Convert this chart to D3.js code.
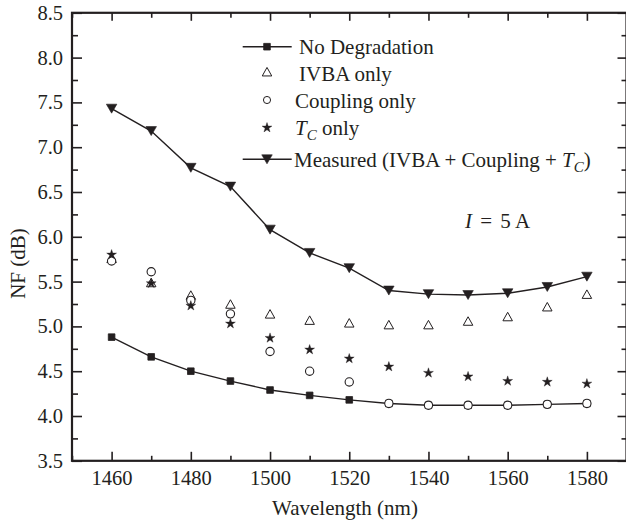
<!DOCTYPE html>
<html>
<head>
<meta charset="utf-8">
<script src="https://cdn.jsdelivr.net/npm/d3@7"></script>
<style>
  html, body { margin: 0; padding: 0; background: #fff; }
  svg { display: block; }
  text { font-family: "Liberation Serif", "Times New Roman", serif; fill: #231f20; }
</style>
</head>
<body>
<svg id="chart" width="626" height="523"></svg>
<script>
// Noise figure vs wavelength, I = 5 A
const wavelengths = [1460, 1470, 1480, 1490, 1500, 1510, 1520, 1530, 1540, 1550, 1560, 1570, 1580];
const noDegradation = [4.88, 4.66, 4.50, 4.39, 4.29, 4.23, 4.18, 4.14, 4.12, 4.12, 4.12, 4.13, 4.14];
const ivbaOnly      = [5.76, 5.49, 5.35, 5.25, 5.14, 5.07, 5.04, 5.02, 5.02, 5.06, 5.11, 5.22, 5.36];
const couplingOnly  = [5.73, 5.61, 5.29, 5.14, 4.72, 4.50, 4.38, 4.14, 4.12, 4.12, 4.12, 4.13, 4.14];
const tcOnly        = [5.80, 5.48, 5.23, 5.03, 4.87, 4.74, 4.64, 4.55, 4.48, 4.44, 4.39, 4.38, 4.36];
const measured      = [7.43, 7.18, 6.77, 6.56, 6.08, 5.82, 5.65, 5.40, 5.36, 5.35, 5.37, 5.44, 5.555];

const xMajorTicks = [1460, 1480, 1500, 1520, 1540, 1560, 1580];
const xMinorTicks = [1450, 1470, 1490, 1510, 1530, 1550, 1570, 1590];
const yMajorTicks = [3.5, 4.0, 4.5, 5.0, 5.5, 6.0, 6.5, 7.0, 7.5, 8.0, 8.5];
const yMinorTicks = [3.75, 4.25, 4.75, 5.25, 5.75, 6.25, 6.75, 7.25, 7.75, 8.25];

const ink = "#231f20";
const svg = d3.select("#chart");
const plotLeft = 72, plotRight = 626.5, plotTop = 12.8, plotBottom = 460.8;

const x = d3.scaleLinear().domain([1450, 1590]).range([plotLeft, plotRight]);
const y = d3.scaleLinear().domain([3.5, 8.5]).range([plotBottom, plotTop]);

// Axes with inward ticks on all four sides
function drawAxis(axisFn, pos, ticks, size, labels) {
  const a = axisFn.tickValues(ticks).tickSizeInner(-size).tickSizeOuter(0).tickPadding(size + 6);
  a.tickFormat(labels ? labels : () => "");
  const g = svg.append("g").attr("transform", pos).call(a);
  g.select(".domain").remove();
  g.selectAll(".tick line").attr("stroke", ink).attr("stroke-width", 1.6);
  g.selectAll(".tick text").style("font-family", '"Liberation Serif", serif').style("font-size", "20.5px").attr("fill", ink);
  return g;
}
const fmtX = d3.format("d"), fmtY = d3.format(".1f");
// bottom
const gb = drawAxis(d3.axisBottom(x), `translate(0,${plotBottom})`, xMajorTicks, 9, fmtX);
gb.selectAll(".tick text").attr("dy", null).attr("y", 24.5);
drawAxis(d3.axisBottom(x), `translate(0,${plotBottom})`, xMinorTicks, 5, null);
// top
drawAxis(d3.axisTop(x), `translate(0,${plotTop})`, xMajorTicks, 8, null);
drawAxis(d3.axisTop(x), `translate(0,${plotTop})`, xMinorTicks, 5, null);
// left
const gl = drawAxis(d3.axisLeft(y), `translate(${plotLeft},0)`, yMajorTicks, 10, fmtY);
gl.selectAll(".tick text").attr("x", -9);
drawAxis(d3.axisLeft(y), `translate(${plotLeft},0)`, yMinorTicks, 6, null);
// right
drawAxis(d3.axisRight(y), `translate(${plotRight},0)`, yMajorTicks, 9, null);
drawAxis(d3.axisRight(y), `translate(${plotRight},0)`, yMinorTicks, 5, null);

// frame
svg.append("rect").attr("x", plotLeft).attr("y", plotTop).attr("width", plotRight - plotLeft).attr("height", plotBottom - plotTop)
  .attr("fill", "none").attr("stroke", ink).attr("stroke-width", 2.2);

// axis titles
svg.append("text").attr("x", 345).attr("y", 515).attr("text-anchor", "middle")
  .style("font-size", "21px").text("Wavelength (nm)");
svg.append("text").attr("transform", "translate(25,263.5) rotate(-90)").attr("text-anchor", "middle")
  .style("font-size", "21px").text("NF (dB)");

// marker shapes
const sq = d3.symbol(d3.symbolSquare, 44)();
const circ = d3.symbol(d3.symbolCircle, 54)();
const star = d3.symbol(d3.symbolStar, 30)();
function tri(w, h, down) {
  const p = d3.path();
  const s = down ? -1 : 1;
  p.moveTo(0, -s * h / 2); p.lineTo(w / 2, s * h / 2); p.lineTo(-w / 2, s * h / 2); p.closePath();
  return p.toString();
}
const triUp = tri(9.5, 8.5, false);
const triDown = tri(10.5, 9, true);

const pts = vals => wavelengths.map((w, i) => [w, vals[i]]);
const line = d3.line().x(d => x(d[0])).y(d => y(d[1]));

function markers(vals, path, fill, stroke, sw) {
  svg.append("g").selectAll("path").data(pts(vals)).join("path")
    .attr("transform", d => `translate(${x(d[0])},${y(d[1])})`)
    .attr("d", path).attr("fill", fill).attr("stroke", stroke).attr("stroke-width", sw);
}

// No degradation
svg.append("path").datum(pts(noDegradation)).attr("d", line).attr("fill", "none").attr("stroke", ink).attr("stroke-width", 1.4);
markers(noDegradation, sq, ink, ink, 0.8);
// IVBA only
markers(ivbaOnly, triUp, "#fff", ink, 1);
// Coupling only
markers(couplingOnly, circ, "#fff", ink, 1.1);
// Tc only
markers(tcOnly, star, ink, ink, 0.4);
// Measured
svg.append("path").datum(pts(measured)).attr("d", line).attr("fill", "none").attr("stroke", ink).attr("stroke-width", 1.4);
markers(measured, triDown, ink, ink, 0.6);

// legend
const lg = svg.append("g");
const legendRows = [
  { y: 46.7, base: 54, tx: 299, line: true, shape: sq, fill: ink, sw: 0.8 },
  { y: 71.7, base: 80.7, tx: 299, line: false, shape: triUp, fill: "#fff", sw: 1 },
  { y: 100, base: 108.3, tx: 295, line: false, shape: d3.symbol(d3.symbolCircle, 40)(), fill: "#fff", sw: 1 },
  { y: 127.7, base: 135, tx: 295, line: false, shape: star, fill: ink, sw: 0.4 },
  { y: 159.3, base: 166.7, tx: 294, line: true, shape: triDown, fill: ink, sw: 0.6 }
];
legendRows.forEach(r => {
  if (r.line) lg.append("line").attr("x1", 242.7).attr("x2", 291.7).attr("y1", r.y).attr("y2", r.y)
    .attr("stroke", ink).attr("stroke-width", 1.5);
  lg.append("path").attr("transform", `translate(267,${r.y})`).attr("d", r.shape)
    .attr("fill", r.fill).attr("stroke", ink).attr("stroke-width", r.sw);
});
const lt = (r) => lg.append("text").attr("x", r.tx).attr("y", r.base).style("font-size", "21px");
lt(legendRows[0]).text("No Degradation");
lt(legendRows[1]).text("IVBA only");
lt(legendRows[2]).text("Coupling only");
const t4 = lt(legendRows[3]);
t4.append("tspan").style("font-style", "italic").text("T");
t4.append("tspan").style("font-style", "italic").style("font-size", "15px").attr("dy", 5).text("C");
t4.append("tspan").attr("dy", -5).text(" only");
const t5 = lt(legendRows[4]);
t5.append("tspan").text("Measured (IVBA + Coupling + ");
t5.append("tspan").style("font-style", "italic").text("T");
t5.append("tspan").style("font-style", "italic").style("font-size", "15px").attr("dy", 5).text("C");
t5.append("tspan").attr("dy", -5).text(")");

// condition label
const cond = svg.append("text").attr("x", 465).attr("y", 227.7).style("font-size", "21px");
cond.append("tspan").style("font-style", "italic").text("I");
cond.append("tspan").attr("dx", 3).text(" =");
cond.append("tspan").attr("dx", 3).text(" 5 A");
</script>
</body>
</html>
